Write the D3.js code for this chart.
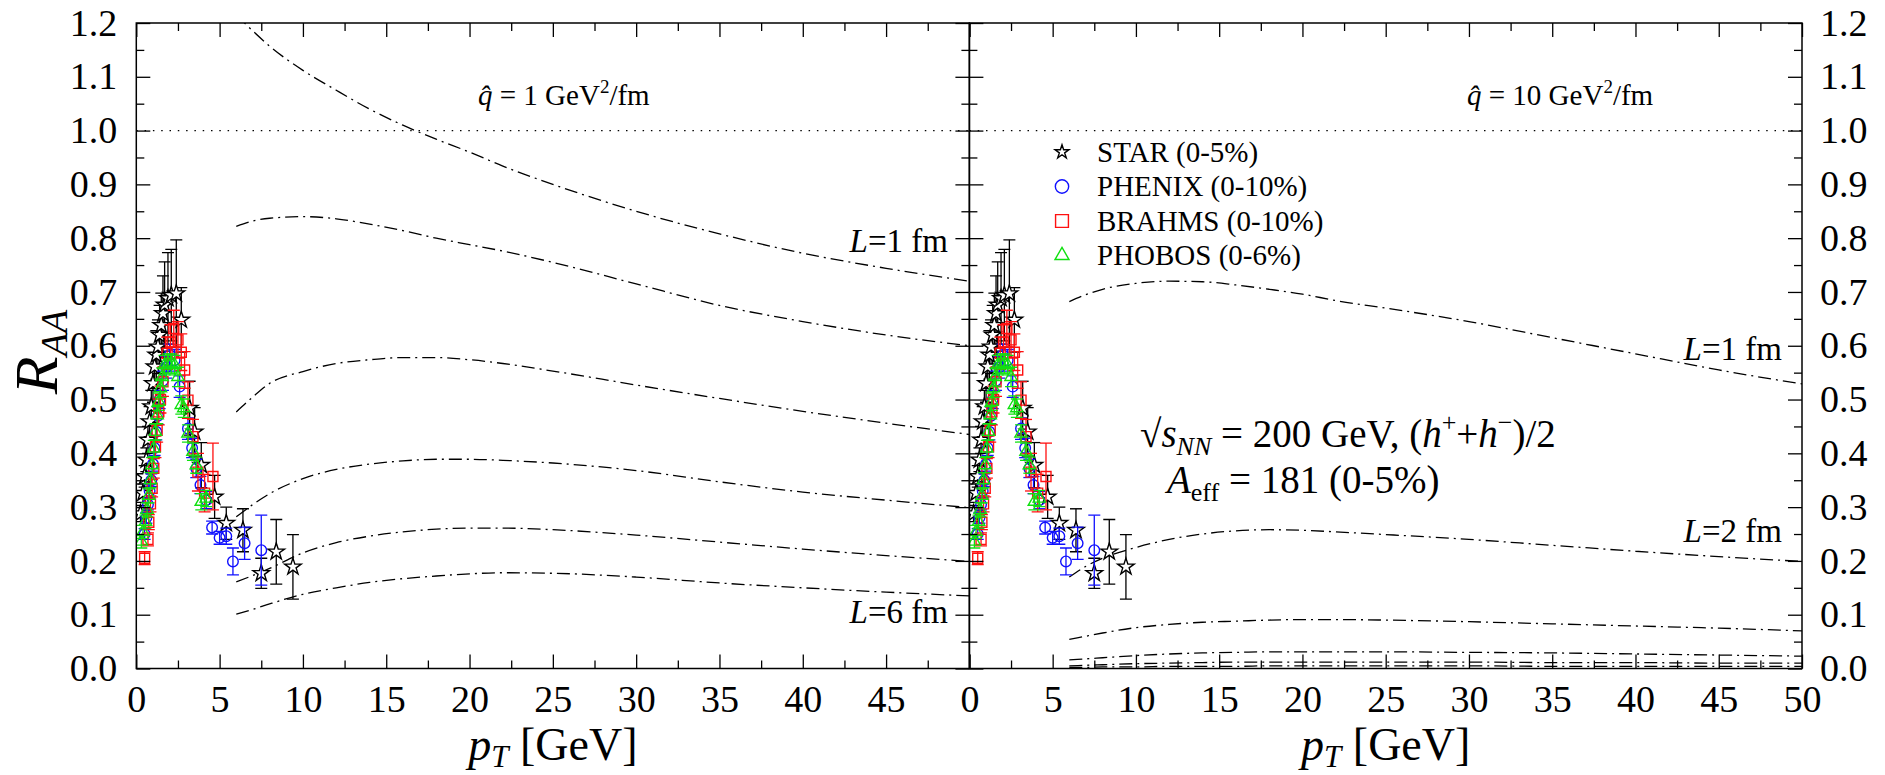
<!DOCTYPE html>
<html>
<head>
<meta charset="utf-8">
<script src="https://d3js.org/d3.v7.min.js"></script>
<style>
  body { margin: 0; background: #fff; }
  svg text { font-family: "Liberation Serif", "Times New Roman", serif; fill: #000; }
  .frame { fill: none; stroke: #000; stroke-width: 1.5; }
  .curve { fill: none; stroke: #000; stroke-width: 1.3; stroke-dasharray: 13,5,2,5; }
  .unity { stroke: #000; stroke-width: 1.3; stroke-dasharray: 1.5,6.8; }
  .tick line { stroke: #000; stroke-width: 1.3; }
</style>
</head>
<body>
<svg id="chart" width="1885" height="775"></svg>
<script>

// ---- data ----
var starPt  = [0.25,0.4,0.5,0.6,0.7,0.8,0.9,1.0,1.1,1.2,1.3,1.4,1.5,1.6,1.7,1.9,2.1,2.4,2.7,3.2,3.5,3.9,4.7,5.4,6.4,7.5,8.4,9.4];
var starR   = [0.288,0.326,0.357,0.388,0.425,0.459,0.487,0.53,0.561,0.583,0.598,0.62,0.638,0.66,0.676,0.688,0.694,0.697,0.648,0.484,0.44,0.378,0.319,0.27,0.257,0.177,0.217,0.189];
var starErr = [0.015,0.017,0.02,0.022,0.025,0.028,0.03,0.035,0.04,0.045,0.05,0.055,0.06,0.07,0.08,0.085,0.085,0.10,0.06,0.05,0.045,0.042,0.04,0.03,0.04,0.028,0.06,0.06];

var phenixPt  = [0.5,0.6,0.7,0.8,0.9,1.0,1.1,1.2,1.3,1.4,1.6,1.8,2.0,2.3,2.6,3.1,3.35,3.6,3.85,4.2,4.55,5.0,5.4,5.8,6.5,7.5];
var phenixR   = [0.25,0.28,0.305,0.33,0.35,0.38,0.41,0.44,0.47,0.50,0.535,0.56,0.583,0.573,0.524,0.446,0.41,0.372,0.341,0.313,0.262,0.243,0.246,0.199,0.233,0.22];
var phenixErr = [0.01,0.01,0.01,0.012,0.012,0.013,0.014,0.015,0.016,0.017,0.018,0.02,0.02,0.02,0.02,0.02,0.018,0.017,0.016,0.016,0.012,0.012,0.015,0.025,0.03,0.065];

var brahmsPt  = [0.5,0.7,0.75,0.85,0.95,1.05,1.15,1.25,1.35,1.45,1.6,1.85,2.05,2.25,2.5,2.7,2.9,3.1,3.4,3.7,4.1,4.6];
var brahmsR   = [0.205,0.24,0.272,0.306,0.335,0.372,0.412,0.443,0.477,0.50,0.533,0.586,0.607,0.632,0.611,0.588,0.555,0.499,0.431,0.365,0.326,0.357];
var brahmsErr = [0.012,0.012,0.014,0.015,0.016,0.018,0.02,0.022,0.024,0.025,0.027,0.03,0.032,0.034,0.034,0.034,0.034,0.034,0.032,0.035,0.035,0.062];

var phobosPt  = [0.3,0.4,0.55,0.65,0.75,0.85,0.95,1.05,1.15,1.25,1.35,1.45,1.55,1.7,1.9,2.1,2.3,2.5,2.7,2.85,3.1,3.4,3.6,3.9,4.2];
var phobosR   = [0.236,0.254,0.273,0.295,0.321,0.35,0.378,0.409,0.44,0.471,0.496,0.521,0.542,0.564,0.567,0.567,0.564,0.542,0.49,0.484,0.437,0.403,0.378,0.31,0.316];
var phobosErr = [0.012,0.012,0.012,0.013,0.013,0.014,0.014,0.015,0.015,0.016,0.016,0.017,0.017,0.018,0.018,0.018,0.018,0.018,0.017,0.017,0.016,0.016,0.015,0.015,0.015];

// theory curves, L = 1..6 fm
var curvePt = [6,7,8,10,12,14,16,18,20,22,25,30,35,40,45,50];
var qhat1 = [
  [1.215,1.185,1.157,1.112,1.075,1.04,1.01,0.984,0.96,0.934,0.9,0.85,0.808,0.772,0.744,0.72],
  [0.822,0.832,0.837,0.840,0.836,0.826,0.814,0.80,0.788,0.776,0.755,0.715,0.675,0.645,0.62,0.60],
  [0.477,0.505,0.53,0.552,0.567,0.574,0.578,0.578,0.574,0.567,0.553,0.527,0.502,0.478,0.456,0.435],
  [0.282,0.305,0.325,0.353,0.37,0.38,0.386,0.389,0.389,0.387,0.382,0.368,0.347,0.328,0.313,0.299],
  [0.161,0.173,0.186,0.215,0.234,0.246,0.254,0.259,0.261,0.261,0.258,0.248,0.235,0.222,0.21,0.199],
  [0.101,0.11,0.12,0.138,0.15,0.16,0.167,0.172,0.176,0.178,0.177,0.17,0.159,0.15,0.142,0.135]
];
var qhat10 = [
  [0.682,0.695,0.705,0.716,0.72,0.719,0.713,0.705,0.696,0.684,0.67,0.645,0.615,0.585,0.555,0.529],
  [0.17,0.19,0.205,0.225,0.24,0.25,0.256,0.258,0.257,0.254,0.249,0.24,0.229,0.218,0.208,0.199],
  [0.054,0.06,0.066,0.076,0.082,0.086,0.088,0.09,0.091,0.091,0.09,0.087,0.083,0.079,0.075,0.070],
  [0.016,0.018,0.02,0.024,0.027,0.029,0.03,0.031,0.031,0.031,0.031,0.03,0.029,0.027,0.025,0.023],
  [0.005,0.006,0.007,0.009,0.010,0.011,0.012,0.012,0.012,0.012,0.012,0.012,0.011,0.011,0.010,0.010],
  [0.002,0.002,0.003,0.003,0.004,0.004,0.004,0.005,0.005,0.005,0.005,0.005,0.004,0.004,0.004,0.004]
];

var yMajor = d3.range(0, 13).map(function(i) { return i / 10; });
var yMinor = d3.range(0, 12).map(function(i) { return i / 10 + 0.05; });
var xMajor = [0,5,10,15,20,25,30,35,40,45,50];
var xMinor = [2.5,7.5,12.5,17.5,22.5,27.5,32.5,37.5,42.5,47.5];

var series = [
  {name: "STAR (0-5%)",    pt: starPt,   r: starR,   err: starErr,   color: "#000000", sym: d3.symbolStar,     size: 85,  lsize: 60,  fill: "#fff"},
  {name: "PHENIX (0-10%)", pt: phenixPt, r: phenixR, err: phenixErr, color: "#1010ff", sym: d3.symbolCircle,   size: 88,  lsize: 140, fill: "none"},
  {name: "BRAHMS (0-10%)", pt: brahmsPt, r: brahmsR, err: brahmsErr, color: "#ff1010", sym: d3.symbolSquare,   size: 100, lsize: 165, fill: "none"},
  {name: "PHOBOS (0-6%)",  pt: phobosPt, r: phobosR, err: phobosErr, color: "#10e010", sym: d3.symbolTriangle, size: 66,  lsize: 85,  fill: "none"}
];

// ---- layout ----
var svg = d3.select("#chart");
var y = d3.scaleLinear().domain([0, 1.2]).range([668.5, 23]);

var panels = [
  {x0: 136.3, x1: 969.4, curves: qhat1, q: "1",  qx: 478,  xLabels: xMajor.slice(0, 10),
   notes: [{t: "1", x: 948, y: 252}, {t: "6", x: 948, y: 623}]},
  {x0: 969.4, x1: 1802, curves: qhat10, q: "10", qx: 1467, xLabels: xMajor,
   notes: [{t: "1", x: 1782, y: 360}, {t: "2", x: 1782, y: 542}]}
];

var defs = svg.append("defs");

panels.forEach(function(p, pi) {
  var x = d3.scaleLinear().domain([0, 50]).range([p.x0, p.x1]);
  var g = svg.append("g");

  defs.append("clipPath").attr("id", "clip" + pi)
    .append("rect").attr("x", p.x0).attr("y", y(1.2))
    .attr("width", p.x1 - p.x0).attr("height", y(0) - y(1.2));

  var plot = g.append("g").attr("clip-path", "url(#clip" + pi + ")");

  // R = 1 reference
  plot.append("line").attr("class", "unity")
    .attr("x1", p.x0).attr("x2", p.x1).attr("y1", y(1)).attr("y2", y(1));

  // theory curves
  var line = d3.line()
    .x(function(d, i) { return x(curvePt[i]); })
    .y(function(d) { return y(d); })
    .curve(d3.curveMonotoneX);
  plot.selectAll(".curve").data(p.curves).enter().append("path")
    .attr("class", "curve").attr("d", line);

  // data with error bars
  series.forEach(function(s) {
    var sg = plot.append("g");
    var pts = s.pt.map(function(v, i) { return {pt: v, r: s.r[i], e: s.err[i]}; });
    var eb = sg.selectAll(".eb").data(pts).enter().append("g")
      .attr("stroke", s.color).attr("stroke-width", 1.3);
    eb.append("line")
      .attr("x1", function(d) { return x(d.pt); }).attr("x2", function(d) { return x(d.pt); })
      .attr("y1", function(d) { return y(d.r - d.e); }).attr("y2", function(d) { return y(d.r + d.e); });
    [-1, 1].forEach(function(sgn) {
      eb.append("line")
        .attr("x1", function(d) { return x(d.pt) - 6; }).attr("x2", function(d) { return x(d.pt) + 6; })
        .attr("y1", function(d) { return y(d.r + sgn * d.e); }).attr("y2", function(d) { return y(d.r + sgn * d.e); });
    });
    sg.selectAll(".pt").data(pts).enter().append("path")
      .attr("d", d3.symbol().type(s.sym).size(s.size))
      .attr("transform", function(d) { return "translate(" + x(d.pt) + "," + y(d.r) + ")"; })
      .attr("fill", s.fill).attr("stroke", s.color).attr("stroke-width", 1.4);
  });

  // ticks (inward), no labels
  function ticks(axis, vals, size, tx, ty) {
    var a = g.append("g").attr("transform", "translate(" + tx + "," + ty + ")")
      .call(axis.tickValues(vals).tickSize(size).tickFormat(""));
    a.select(".domain").remove();
    a.selectAll("text").remove();
  }
  ticks(d3.axisTop(x), xMajor, 14, 0, y(0));
  ticks(d3.axisTop(x), xMinor, 8, 0, y(0));
  ticks(d3.axisBottom(x), xMajor, 14, 0, y(1.2));
  ticks(d3.axisBottom(x), xMinor, 8, 0, y(1.2));
  ticks(d3.axisRight(y), yMajor, 14, p.x0, 0);
  ticks(d3.axisRight(y), yMinor, 8, p.x0, 0);
  ticks(d3.axisLeft(y), yMajor, 14, p.x1, 0);
  ticks(d3.axisLeft(y), yMinor, 8, p.x1, 0);

  g.append("rect").attr("class", "frame")
    .attr("x", p.x0).attr("y", y(1.2)).attr("width", p.x1 - p.x0).attr("height", y(0) - y(1.2));

  // x tick labels
  var xl = g.append("g").attr("transform", "translate(0," + y(0) + ")")
    .call(d3.axisBottom(x).tickValues(p.xLabels).tickSize(0).tickPadding(17).tickFormat(d3.format("d")));
  xl.select(".domain").remove();
  xl.selectAll("text").attr("font-size", 38).attr("font-family", "Liberation Serif").attr("fill", "#000");

  // x title
  var xt = svg.append("text").attr("x", (p.x0 + p.x1) / 2).attr("y", 760)
    .attr("text-anchor", "middle").attr("font-size", 46);
  xt.append("tspan").attr("font-style", "italic").text("p");
  xt.append("tspan").attr("font-style", "italic").attr("font-size", 31).attr("dy", 7).text("T");
  xt.append("tspan").attr("dy", -7).text(" [GeV]");

  // qhat label
  var qt = svg.append("text").attr("x", p.qx).attr("y", 105).attr("font-size", 29);
  qt.append("tspan").attr("font-style", "italic").text("q\u0302");
  qt.append("tspan").text(" = " + p.q + " GeV");
  qt.append("tspan").attr("font-size", 19).attr("dy", -12).text("2");
  qt.append("tspan").attr("dy", 12).text("/fm");

  // L labels
  p.notes.forEach(function(n) {
    var t = svg.append("text").attr("x", n.x).attr("y", n.y).attr("text-anchor", "end").attr("font-size", 33);
    t.append("tspan").attr("font-style", "italic").text("L");
    t.append("tspan").text("=" + n.t + " fm");
  });
});

// y tick labels: left and right
var yl = svg.append("g").attr("transform", "translate(136.3,0)")
  .call(d3.axisLeft(y).tickValues(yMajor).tickSize(0).tickPadding(19).tickFormat(d3.format(".1f")));
var yr = svg.append("g").attr("transform", "translate(1802,0)")
  .call(d3.axisRight(y).tickValues(yMajor).tickSize(0).tickPadding(18).tickFormat(d3.format(".1f")));
[yl, yr].forEach(function(a) {
  a.select(".domain").remove();
  a.selectAll("text").attr("font-size", 38).attr("font-family", "Liberation Serif").attr("fill", "#000");
});

// y title
var yt = svg.append("text").attr("transform", "translate(57,352) rotate(-90)")
  .attr("text-anchor", "middle").attr("font-size", 62);
yt.append("tspan").attr("font-style", "italic").text("R");
yt.append("tspan").attr("font-style", "italic").attr("font-size", 38).attr("dy", 10).text("AA");

// legend
var leg = svg.append("g");
series.forEach(function(s, i) {
  var cy = 152 + i * 34.5;
  leg.append("path").attr("d", d3.symbol().type(s.sym).size(s.lsize))
    .attr("transform", "translate(1062," + cy + ")")
    .attr("fill", s.fill).attr("stroke", s.color).attr("stroke-width", 1.4);
  leg.append("text").attr("x", 1097).attr("y", cy + 9.5).attr("font-size", 29).text(s.name);
});

// collision info
var t1 = svg.append("text").attr("x", 1140).attr("y", 447).attr("font-size", 39);
t1.append("tspan").text("\u221A");
t1.append("tspan").attr("font-style", "italic").text("s");
t1.append("tspan").attr("font-style", "italic").attr("font-size", 26).attr("dy", 8).text("NN");
t1.append("tspan").attr("dy", -8).text(" = 200 GeV, (");
t1.append("tspan").attr("font-style", "italic").text("h");
t1.append("tspan").attr("font-size", 26).attr("dy", -16).text("+");
t1.append("tspan").attr("dy", 16).text("+");
t1.append("tspan").attr("font-style", "italic").text("h");
t1.append("tspan").attr("font-size", 26).attr("dy", -16).text("\u2212");
t1.append("tspan").attr("dy", 16).text(")/2");

var t2 = svg.append("text").attr("x", 1167).attr("y", 493).attr("font-size", 39);
t2.append("tspan").attr("font-style", "italic").text("A");
t2.append("tspan").attr("font-size", 26).attr("dy", 8).text("eff");
t2.append("tspan").attr("dy", -8).text(" = 181 (0-5%)");

</script>
</body>
</html>
